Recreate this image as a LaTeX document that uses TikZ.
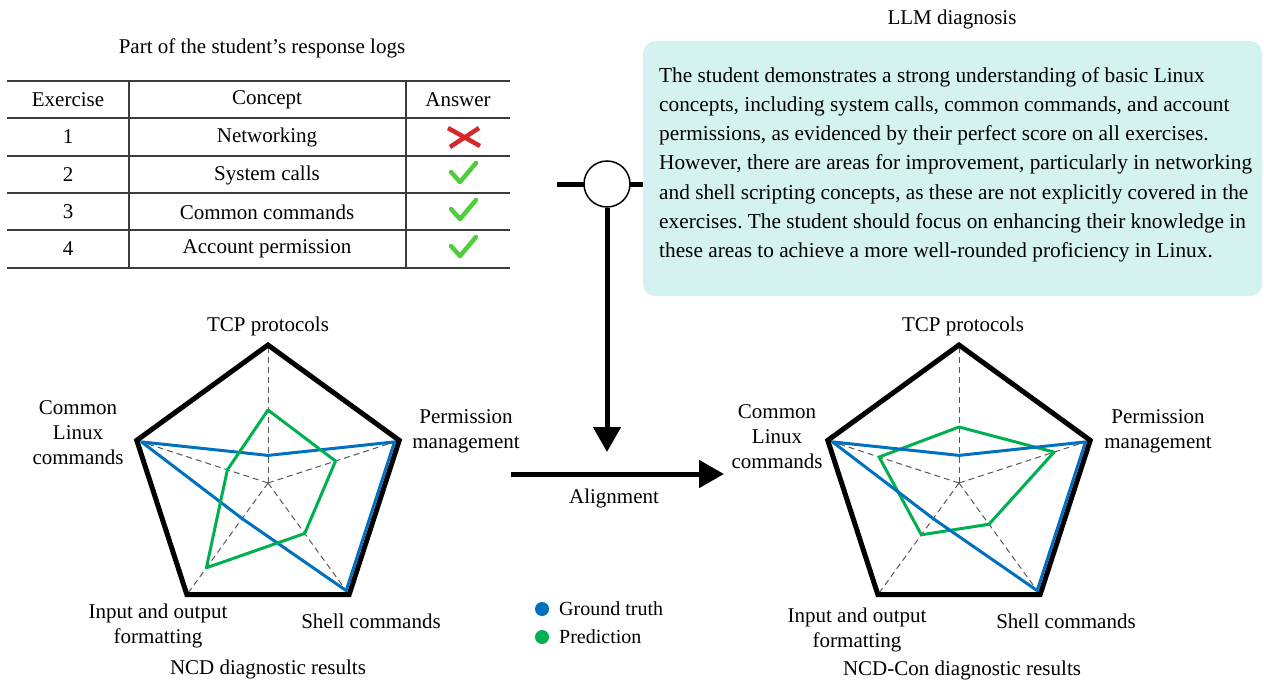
\documentclass[tikz,border=0pt]{standalone}
\usepackage{fontspec}
\setmainfont{Liberation Serif}
\usepackage{xcolor}
\usetikzlibrary{positioning,arrows.meta,calc}
\definecolor{truthblue}{RGB}{0,112,192}
\definecolor{predgreen}{RGB}{0,176,80}
\definecolor{llmbg}{RGB}{212,242,239}
\definecolor{wrongred}{RGB}{214,40,40}
\definecolor{rightgreen}{RGB}{80,205,60}
\definecolor{rulegray}{RGB}{60,60,60}

\tikzset{
  lbl/.style={font=\fontsize{21}{25}\selectfont, align=center, inner sep=0pt},
  frameline/.style={line width=5pt, line join=miter},
  spoke/.style={gray!70!black, line width=1pt, dash pattern=on 6pt off 4pt},
  truth/.style={truthblue, line width=3pt, line join=round},
  pred/.style={predgreen, line width=3pt, line join=round},
  tablerule/.style={rulegray, line width=1.6pt},
  thickarrow/.style={line width=5pt, -{Triangle[width=27pt,length=25pt]}},
  okmark/.pic={\draw[rightgreen, line width=4.5pt, line cap=round, line join=round] (-12,-1) -- (-3,9) -- (13,-10);},
  xmark/.pic={\draw[wrongred, line width=4.5pt] (-16,-9) -- (16,9) (15,-9) -- (-14,10);}
}

\begin{document}
\frenchspacing
\begin{tikzpicture}[x=1pt, y=-1pt]
\useasboundingbox (0,0) rectangle (1264,682);

% response logs table
\node[lbl] (logtitle) at (262,48) {Part of the student's response logs};
\foreach \ry in {81,118,156,193,230,268}
  \draw[tablerule] (7,\ry) -- (510,\ry);
\draw[tablerule] (129,81) -- (129,268) (406,81) -- (406,268);
\node[lbl] (hex) at (68,100) {Exercise};
\node[lbl] (hcon) at (267,100) {Concept};
\node[lbl] (hans) at (458,100) {Answer};
\foreach \ry/\c [count=\r] in {137/Networking,175/System calls,212/Common commands,249/Account permission} {
  \node[lbl] (ex\r) at (68,\ry) {\r};
  \node[lbl] (con\r) at (267,\ry) {\c};
}
\pic at (464,137) {xmark};
\foreach \ry in {173,210,247}
  \pic at (463,\ry) {okmark};

% LLM diagnosis
\node[lbl] (llmtitle) at (952,19) {LLM diagnosis};
\node[fill=llmbg, rounded corners=12pt, anchor=north west, minimum width=619pt, minimum height=255pt] (diag) at (643,41) {};
\node[anchor=west, align=left, inner sep=0pt, font=\fontsize{21.3}{29.2}\selectfont] (diagtext) at ([xshift=16pt, yshift=4pt]diag.west) {%
  The student demonstrates a strong understanding of basic Linux\\
  concepts, including system calls, common commands, and account\\
  permissions, as evidenced by their perfect score on all exercises.\\
  However, there are areas for improvement, particularly in networking\\
  and shell scripting concepts, as these are not explicitly covered in the\\
  exercises. The student should focus on enhancing their knowledge in\\
  these areas to achieve a more well-rounded proficiency in Linux.};

% merge and alignment arrows
\coordinate (logsend) at (557,184);
\coordinate (mergeend) at (607,452);
\coordinate (alnstart) at (511,474);
\coordinate (alnend) at (724,474);
\draw[line width=5pt] (logsend) -- (diag.west |- logsend);
\node[circle, draw, line width=1.5pt, fill=white, minimum size=46pt, inner sep=0pt] (merge) at (607,184) {};
\draw[thickarrow] (merge.south) -- (mergeend);
\draw[thickarrow] (alnstart) -- (alnend);
\node[lbl] (alnlbl) at (614,498) {Alignment};

% legend
\node[circle, fill=truthblue, minimum size=14pt, inner sep=0pt] (gtdot) at (542,609) {};
\node[circle, fill=predgreen, minimum size=14pt, inner sep=0pt] (prdot) at (542,637) {};
\node[lbl, anchor=west, font=\fontsize{20}{24}\selectfont] (gtlbl) at (559,609) {Ground truth};
\node[lbl, anchor=west, font=\fontsize{20}{24}\selectfont] (prlbl) at (559,637) {Prediction};

% NCD radar
\begin{scope}[shift={(268,483)}, yscale=-1]
  \foreach \a/\n in {90/t,18/p,-54/s,-126/i,162/c}
    \coordinate (l\n) at (\a:138);
  \foreach \n in {t,p,s,i,c}
    \draw[spoke] (0,0) -- (l\n);
  \draw[frameline] (lt) -- (lp) -- (ls) -- (li) -- (lc) -- cycle;
  \draw[truth] (90:27.6) -- (18:133) -- (-54:133) -- (-126:44) -- (162:133) -- cycle;
  \draw[pred] (90:73) -- (18:71) -- (-54:62.4) -- (-126:104.8) -- (162:42.7) -- cycle;
\end{scope}
\node[lbl] (ltcp) at (268,326) {TCP protocols};
\node[lbl] (lperm) at (466,431) {Permission\\management};
\node[lbl] (lshell) at (371,621) {Shell commands};
\node[lbl] (linput) at (158,626) {Input and output\\formatting};
\node[lbl] (lcommon) at (78,433) {Common\\Linux\\commands};
\node[lbl] (lres) at (268,669) {NCD diagnostic results};

% NCD-Con radar
\begin{scope}[shift={(959,483)}, yscale=-1]
  \foreach \a/\n in {90/t,18/p,-54/s,-126/i,162/c}
    \coordinate (r\n) at (\a:138);
  \foreach \n in {t,p,s,i,c}
    \draw[spoke] (0,0) -- (r\n);
  \draw[frameline] (rt) -- (rp) -- (rs) -- (ri) -- (rc) -- cycle;
  \draw[pred] (90:56) -- (18:100) -- (-54:51) -- (-126:64) -- (162:84) -- cycle;
  \draw[truth] (90:27.6) -- (18:133) -- (-54:133) -- (-126:44) -- (162:133) -- cycle;
\end{scope}
\node[lbl] (rtcp) at (963,326) {TCP protocols};
\node[lbl] (rperm) at (1158,431) {Permission\\management};
\node[lbl] (rshell) at (1066,621) {Shell commands};
\node[lbl] (rinput) at (857,630) {Input and output\\formatting};
\node[lbl] (rcommon) at (777,437) {Common\\Linux\\commands};
\node[lbl] (rres) at (962,670) {NCD-Con diagnostic results};
\end{tikzpicture}
\end{document}
